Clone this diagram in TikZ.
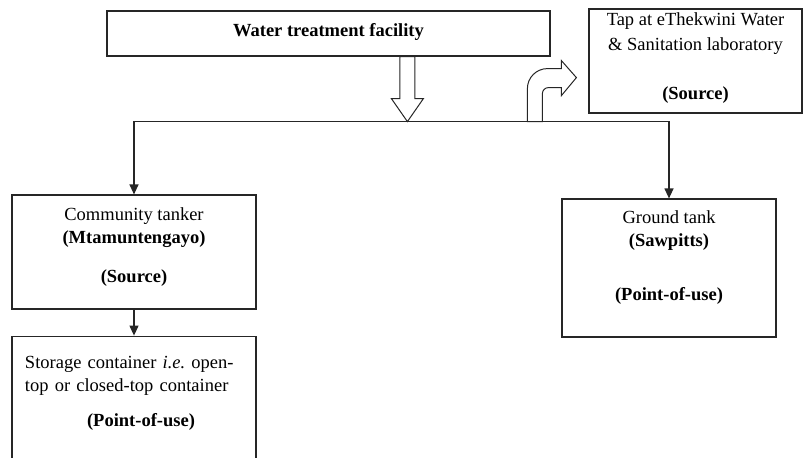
\documentclass[tikz,border=0pt]{standalone}
\usepackage{fontspec}
\setmainfont{Liberation Serif}
\usetikzlibrary{arrows.meta,positioning,calc}

\begin{document}
\begin{tikzpicture}[
  x=0.5pt, y=0.5pt,
  font=\fontsize{9.25}{11.5}\selectfont,
  >={Triangle[length=5pt,width=4.5pt]},
  flow/.style={->, draw=black!85, line width=.6pt},
  box/.style={draw=black!85, line width=.6pt, align=center,
              inner xsep=3pt, inner ysep=0pt},
  hollow/.style={draw=black!85, line width=.5pt, fill=white}
]
\useasboundingbox (0,0) rectangle (803,457);
\clip (0,0) rectangle (803,457);

% Origin and lab tap.
\node[box, minimum width=221.5pt, text height=12.5pt, text depth=10pt]
      (facility) at (328.5,423.5) {\textbf{Water treatment facility}};
\node[box, minimum width=106.5pt, text height=45pt, text depth=7pt]
      (tap) at (695.5,396)
      {Tap at eThekwini Water\\[1pt]\& Sanitation laboratory\\[13pt]\textbf{(Source)}};

% Sampling points.
\node[box, minimum width=122pt, text height=43.5pt, text depth=13.5pt]
      (tanker) at (134,205)
      {Community tanker\\\textbf{(Mtamuntengayo)}\\[8pt]\textbf{(Source)}};
\node[box, below=13pt of tanker, align=left, text width=109pt, inner xsep=6.5pt,
      text height=16pt, text depth=56.5pt] (storage)
      {Storage container \textit{i.e.}\ open-\\top or closed-top container\\[6pt]
       \makebox[109pt][c]{\hspace{7pt}\textbf{(Point-of-use)}}};
\node[box, minimum width=107pt, text height=50.5pt, text depth=18.5pt]
      (ground) at (669,189)
      {Ground tank\\\textbf{(Sawpitts)}\\[15.5pt]\textbf{(Point-of-use)}};

\coordinate (drop) at ($(facility.south west)+(301,0)$);
\coordinate (split) at ($(drop)+(0,-65)$);
\coordinate (bend) at ($(split)+(120,0)$);

\draw[flow] (split) -| (tanker.north);
\draw[flow] (split) -| (ground.north);
\draw[flow] (tanker) -- (storage);

% Hollow arrows.
\draw[hollow] ($(drop)+(-7.5,0)$) -- ++(0,-42) -- ++(-8.5,0) -- (split)
  -- ++(16,23) -- ++(-8.5,0) -- ++(0,42) -- cycle;
\draw[hollow] (bend) -- ++(0,33) arc[start angle=180,end angle=90,radius=10pt]
  -- ++(14,0) -- ++(0,8) -- ++(15,-17) -- ++(-15,-18) -- ++(0,8) -- ++(-13,0)
  arc[start angle=90,end angle=180,radius=3pt] -- ++(0,-28) -- cycle;

\end{tikzpicture}
\end{document}
